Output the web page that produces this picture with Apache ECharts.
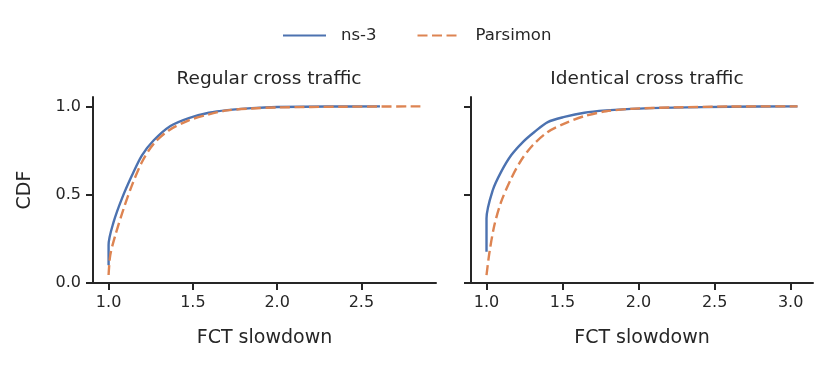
<!DOCTYPE html>
<html>
<head>
<meta charset="utf-8">
<script src="https://cdn.jsdelivr.net/npm/echarts@6/dist/echarts.min.js"></script>
<style>
  html, body { margin: 0; padding: 0; background: #fff; }
  #chart { width: 830px; height: 371px; }
</style>
</head>
<body>
<div id="chart"></div>
<script>
// values
var panelTitles = ["Regular cross traffic", "Identical cross traffic"];
var seriesNames = ["ns-3", "Parsimon"];
var xTicksLeft = [1.0, 1.5, 2.0, 2.5];
var xTicksRight = [1.0, 1.5, 2.0, 2.5, 3.0];
var yTicks = [0.0, 0.5, 1.0];

// Regular cross traffic
var regNs3X = [1.0, 1.0, 1.03, 1.079, 1.139, 1.198, 1.268, 1.367, 1.476, 1.595, 1.704, 1.85, 2.0, 2.3, 2.61];
var regNs3Y = [0.10, 0.215, 0.346, 0.478, 0.61, 0.723, 0.808, 0.889, 0.934, 0.964, 0.979, 0.99, 0.996, 0.999, 1.0];
var regParX = [1.0, 1.01, 1.04, 1.089, 1.139, 1.198, 1.268, 1.357, 1.476, 1.595, 1.704, 1.85, 2.0, 2.4, 2.85];
var regParY = [0.045, 0.158, 0.271, 0.42, 0.554, 0.685, 0.789, 0.864, 0.921, 0.955, 0.977, 0.988, 0.994, 0.998, 1.0];

// Identical cross traffic
var idNs3X = [1.0, 1.0, 1.041, 1.096, 1.162, 1.239, 1.315, 1.403, 1.512, 1.644, 1.786, 1.95, 2.23, 2.6, 3.045];
var idNs3Y = [0.177, 0.365, 0.525, 0.629, 0.723, 0.798, 0.855, 0.911, 0.94, 0.964, 0.977, 0.986, 0.993, 0.998, 1.0];
var idParX = [1.0, 1.02, 1.052, 1.096, 1.162, 1.228, 1.304, 1.403, 1.512, 1.644, 1.786, 1.95, 2.23, 2.6, 3.045];
var idParY = [0.045, 0.177, 0.328, 0.459, 0.591, 0.695, 0.78, 0.855, 0.902, 0.945, 0.972, 0.986, 0.994, 0.999, 1.0];

function pairs(xs, ys) {
  return xs.map(function (x, i) { return [x, ys[i]]; });
}

var chart = echarts.init(document.getElementById("chart"));
var font = "DejaVu Sans";
var ink = "#262626";
var blue = "#4C72B0";
var orange = "#DD8452";

function xAxis(idx, min, max, ticks) {
  return {
    type: "value",
    gridIndex: idx,
    min: min,
    max: max,
    name: "FCT slowdown",
    nameLocation: "middle",
    nameGap: 46,
    nameTextStyle: { fontFamily: font, fontSize: 19, color: ink },
    splitLine: { show: false },
    axisLine: { lineStyle: { color: ink, width: 2 } },
    axisTick: { length: 7, lineStyle: { color: ink, width: 2 }, customValues: ticks },
    axisLabel: {
      fontFamily: font, fontSize: 16, color: ink, margin: 12,
      customValues: ticks,
      formatter: function (v) { return v.toFixed(1); }
    }
  };
}

function yAxis(idx, showLabels) {
  return {
    type: "value",
    gridIndex: idx,
    min: 0,
    max: 1.053,
    name: showLabels ? "CDF" : "",
    nameLocation: "middle",
    nameGap: 58,
    nameTextStyle: { fontFamily: font, fontSize: 19, color: ink },
    splitLine: { show: false },
    axisLine: { show: true, lineStyle: { color: ink, width: 2 } },
    axisTick: { show: true, length: 7, lineStyle: { color: ink, width: 2 }, customValues: yTicks },
    axisLabel: {
      show: showLabels, fontFamily: font, fontSize: 16, color: ink, margin: 12,
      customValues: yTicks,
      formatter: function (v) { return v.toFixed(1); }
    }
  };
}

function line(name, xi, data, color, dashed) {
  return {
    name: name,
    type: "line",
    xAxisIndex: xi,
    yAxisIndex: xi,
    data: data,
    showSymbol: false,
    symbol: "none",
    smooth: 0.3,
    lineStyle: dashed
      ? { color: color, width: 2.4, type: [10, 4.5] }
      : { color: color, width: 2.4 },
    itemStyle: { color: color },
    animation: false
  };
}

chart.setOption({
  backgroundColor: "#fff",
  animation: false,
  title: [
    { text: panelTitles[0], left: 264, top: 65, textAlign: "center",
      textStyle: { fontFamily: font, fontSize: 18.5, fontWeight: "normal", color: ink } },
    { text: panelTitles[1], left: 642, top: 65, textAlign: "center",
      textStyle: { fontFamily: font, fontSize: 18.5, fontWeight: "normal", color: ink } }
  ],
  legend: {
    top: 22,
    left: 277,
    itemWidth: 43,
    itemHeight: 12,
    itemGap: 40,
    itemStyle: { color: "transparent", borderWidth: 0, borderColor: "transparent" },
    data: seriesNames,
    textStyle: { fontFamily: font, fontSize: 16.5, color: ink, padding: [0, 0, 0, 10] }
  },
  grid: [
    { left: 93, top: 97, width: 343, height: 186 },
    { left: 471, top: 97, width: 342, height: 186 }
  ],
  xAxis: [
    xAxis(0, 0.9075, 2.9425, xTicksLeft),
    xAxis(1, 0.898, 3.147, xTicksRight)
  ],
  yAxis: [yAxis(0, true), yAxis(1, false)],
  series: [
    line(seriesNames[0], 0, pairs(regNs3X, regNs3Y), blue, false),
    line(seriesNames[1], 0, pairs(regParX, regParY), orange, true),
    line(seriesNames[0], 1, pairs(idNs3X, idNs3Y), blue, false),
    line(seriesNames[1], 1, pairs(idParX, idParY), orange, true)
  ]
});
</script>
</body>
</html>
